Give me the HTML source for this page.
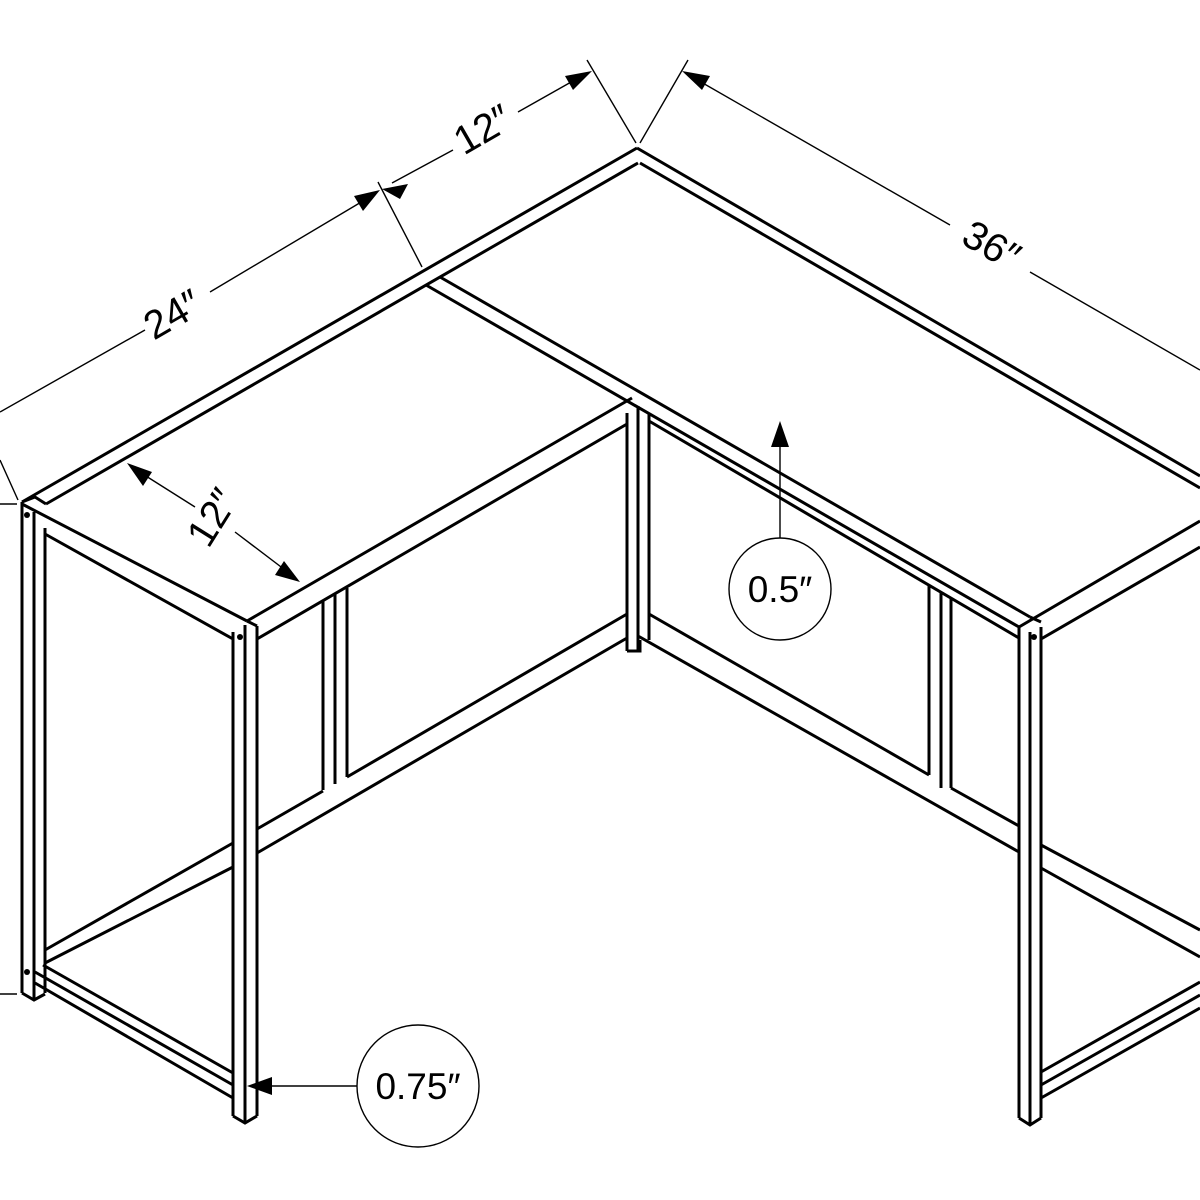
<!DOCTYPE html>
<html><head><meta charset="utf-8"><style>
html,body{margin:0;padding:0;background:#fff;}
svg{display:block;}
text{font-family:"Liberation Sans",sans-serif;fill:#000;}
</style></head><body>
<svg width="1200" height="1200" viewBox="0 0 1200 1200" xmlns="http://www.w3.org/2000/svg">
<g stroke="#000" stroke-width="3" fill="none" stroke-linejoin="miter" stroke-linecap="butt">
<line x1="22" y1="502" x2="22" y2="993"/>
<line x1="34" y1="512" x2="34" y2="1000"/>
<line x1="45" y1="528" x2="45" y2="993"/>
<polyline points="22,993 34,1000 45,994"/>
<line x1="233" y1="632" x2="233" y2="1116"/>
<line x1="245" y1="625" x2="245" y2="1123"/>
<line x1="257" y1="626" x2="257" y2="1116"/>
<polyline points="233,1116 245,1123 257,1116"/>
<line x1="1019" y1="627" x2="1019" y2="1118"/>
<line x1="1030" y1="632" x2="1030" y2="1125"/>
<line x1="1041" y1="627" x2="1041" y2="1118"/>
<polyline points="1019,1118 1030,1125 1041,1118"/>
<line x1="627" y1="413" x2="627" y2="651"/>
<line x1="638" y1="406" x2="638" y2="651"/>
<line x1="649" y1="413" x2="649" y2="640"/>
<polyline points="627,651 640,651 640,640"/>
<line x1="22" y1="502" x2="637" y2="148"/>
<line x1="46" y1="504" x2="638" y2="163"/>
<polyline points="22,502 35,497 46,504"/>
<line x1="637" y1="148" x2="1200" y2="476"/>
<line x1="640" y1="163" x2="1200" y2="488"/>
<line x1="440" y1="277" x2="1030" y2="617"/>
<line x1="426" y1="285" x2="1019" y2="627"/>
<line x1="649" y1="421" x2="1019" y2="638"/>
<line x1="1019" y1="627" x2="1200" y2="521"/>
<polyline points="1030,617 1041,622"/>
<line x1="1041" y1="639" x2="1200" y2="547"/>
<line x1="22" y1="504" x2="247" y2="621"/>
<line x1="45" y1="534" x2="233" y2="639"/>
<polyline points="247,621 257,626"/>
<line x1="247" y1="621" x2="632" y2="398"/>
<line x1="257" y1="639" x2="627" y2="424"/>
<line x1="323" y1="601" x2="323" y2="790"/>
<line x1="335" y1="594" x2="335" y2="784"/>
<line x1="347" y1="588" x2="347" y2="777"/>
<line x1="45" y1="950" x2="233" y2="843"/>
<line x1="45" y1="963" x2="233" y2="867"/>
<line x1="257" y1="829" x2="323" y2="791"/>
<line x1="347" y1="777" x2="627" y2="614"/>
<line x1="257" y1="853" x2="627" y2="638"/>
<line x1="43" y1="965" x2="233" y2="1073"/>
<line x1="35" y1="972" x2="233" y2="1085"/>
<line x1="35" y1="983" x2="233" y2="1098"/>
<line x1="929" y1="585" x2="929" y2="775"/>
<line x1="941" y1="592" x2="941" y2="788"/>
<line x1="951" y1="598" x2="951" y2="788"/>
<line x1="649" y1="614" x2="929" y2="775"/>
<line x1="951" y1="788" x2="1019" y2="826"/>
<line x1="638" y1="636" x2="1019" y2="852"/>
<line x1="1041" y1="845" x2="1200" y2="930"/>
<line x1="1041" y1="868" x2="1200" y2="957"/>
<line x1="1041" y1="1072" x2="1200" y2="982"/>
<line x1="1041" y1="1085" x2="1200" y2="995"/>
<line x1="1041" y1="1098" x2="1200" y2="1008"/>
</g>
<g fill="#000">
<circle cx="27" cy="515" r="3"/>
<circle cx="27" cy="972" r="3"/>
<circle cx="240" cy="637" r="3"/>
<circle cx="1034" cy="637" r="3"/>
</g>
<g stroke="#000" stroke-width="1.4" fill="none">
<line x1="0" y1="412" x2="145" y2="330"/>
<line x1="210" y1="292" x2="368" y2="198"/>
<line x1="392" y1="183" x2="453" y2="150"/>
<line x1="518" y1="112" x2="580" y2="77"/>
<line x1="378" y1="182" x2="422" y2="267"/>
<line x1="587" y1="60" x2="636" y2="143"/>
<line x1="688" y1="60" x2="640" y2="143"/>
<line x1="694" y1="78" x2="950" y2="225"/>
<line x1="1030" y1="272" x2="1200" y2="370"/>
<line x1="0" y1="460" x2="18" y2="500"/>
<line x1="0" y1="504" x2="17" y2="504"/>
<line x1="0" y1="994" x2="17" y2="994"/>
<line x1="138" y1="471" x2="195" y2="507"/>
<line x1="235" y1="532" x2="289" y2="573"/>
<line x1="780" y1="447" x2="780" y2="538"/>
<line x1="272" y1="1086" x2="357" y2="1086"/>
<ellipse cx="780" cy="589" rx="51" ry="51"/>
<circle cx="418" cy="1086" r="61"/>
</g>
<g fill="#000">
<polygon points="380,190 354,196 363,211"/>
<polygon points="382,189 408,184 400,199"/>
<polygon points="592,71 573,90 565,76"/>
<polygon points="682,71 702,90 710,76"/>
<polygon points="127,463 152,472 143,486"/>
<polygon points="300,582 275,575 284,561"/>
<polygon points="780,421 771,447 789,447"/>
<polygon points="247,1086 272,1077 272,1095"/>
</g>
<g font-size="40">
<text x="174" y="317" text-anchor="middle" dominant-baseline="middle" transform="rotate(-30 174 317)">24″</text>
<text x="484" y="132" text-anchor="middle" dominant-baseline="middle" transform="rotate(-30 484 132)">12″</text>
<text x="990" y="248" text-anchor="middle" dominant-baseline="middle" transform="rotate(30 990 248)">36″</text>
<text x="215" y="519" text-anchor="middle" dominant-baseline="middle" transform="rotate(-58 215 519)">12″</text>
</g>
<text x="780" y="602" font-size="37" text-anchor="middle">0.5″</text>
<text x="418" y="1099" font-size="37" text-anchor="middle">0.75″</text>
</svg>
</body></html>
